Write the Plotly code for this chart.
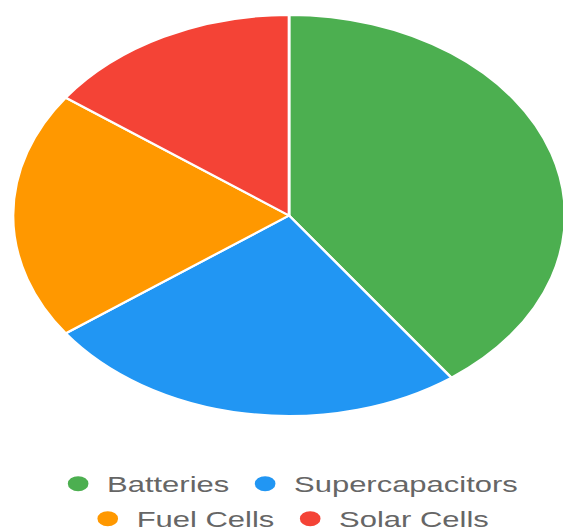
import plotly.graph_objects as go

labels = ["Batteries", "Supercapacitors", "Fuel Cells", "Solar Cells"]
values = [40, 25, 20, 15]
colors = ["#4CAF50", "#2196F3", "#FF9800", "#F44336"]

STRETCH = 1.377          # horizontal stretch seen in the reference
W, H = 420, 531          # unstretched figure size

fig = go.Figure()
fig.add_trace(go.Pie(
    labels=labels, values=values, sort=False, direction="clockwise", rotation=0,
    marker=dict(colors=colors, line=dict(color="white", width=2)),
    textinfo="none", hoverinfo="label+value", showlegend=False,
    domain=dict(x=[9.4 / W, 410.4 / W], y=[115 / H, 516 / H]),
))

# legend entries with circular symbols, split into two centred rows
for i, (lab, col) in enumerate(zip(labels, colors)):
    fig.add_trace(go.Scatter(
        x=[None], y=[None], mode="markers", name=lab,
        marker=dict(color=col, size=15, symbol="circle"),
        showlegend=True, legend="legend" if i < 2 else "legend2",
    ))

legend_common = dict(orientation="h", xanchor="center", yanchor="middle", itemwidth=32,
                     font=dict(family="Liberation Sans, Arial, sans-serif", size=22.5, color="#666666"),
                     bgcolor="rgba(0,0,0,0)", itemclick=False, itemdoubleclick=False)
fig.update_layout(
    width=W, height=H,
    margin=dict(l=0, r=0, t=0, b=0, autoexpand=False),
    paper_bgcolor="white", plot_bgcolor="white",
    xaxis=dict(visible=False), yaxis=dict(visible=False),
    legend=dict(x=0.497, y=(531 - 484) / H, **legend_common),
    legend2=dict(x=0.497, y=(531 - 519) / H, **legend_common),
)

post = """
document.body.style.margin='0';
document.body.style.overflow='hidden';
document.documentElement.style.overflow='hidden';
var gd=document.getElementById('{plot_id}');
gd.style.transformOrigin='0 0';
gd.style.transform='scaleX(%s)';
""" % STRETCH

fig.write_html("out.html", post_script=post, config={"displayModeBar": False})
